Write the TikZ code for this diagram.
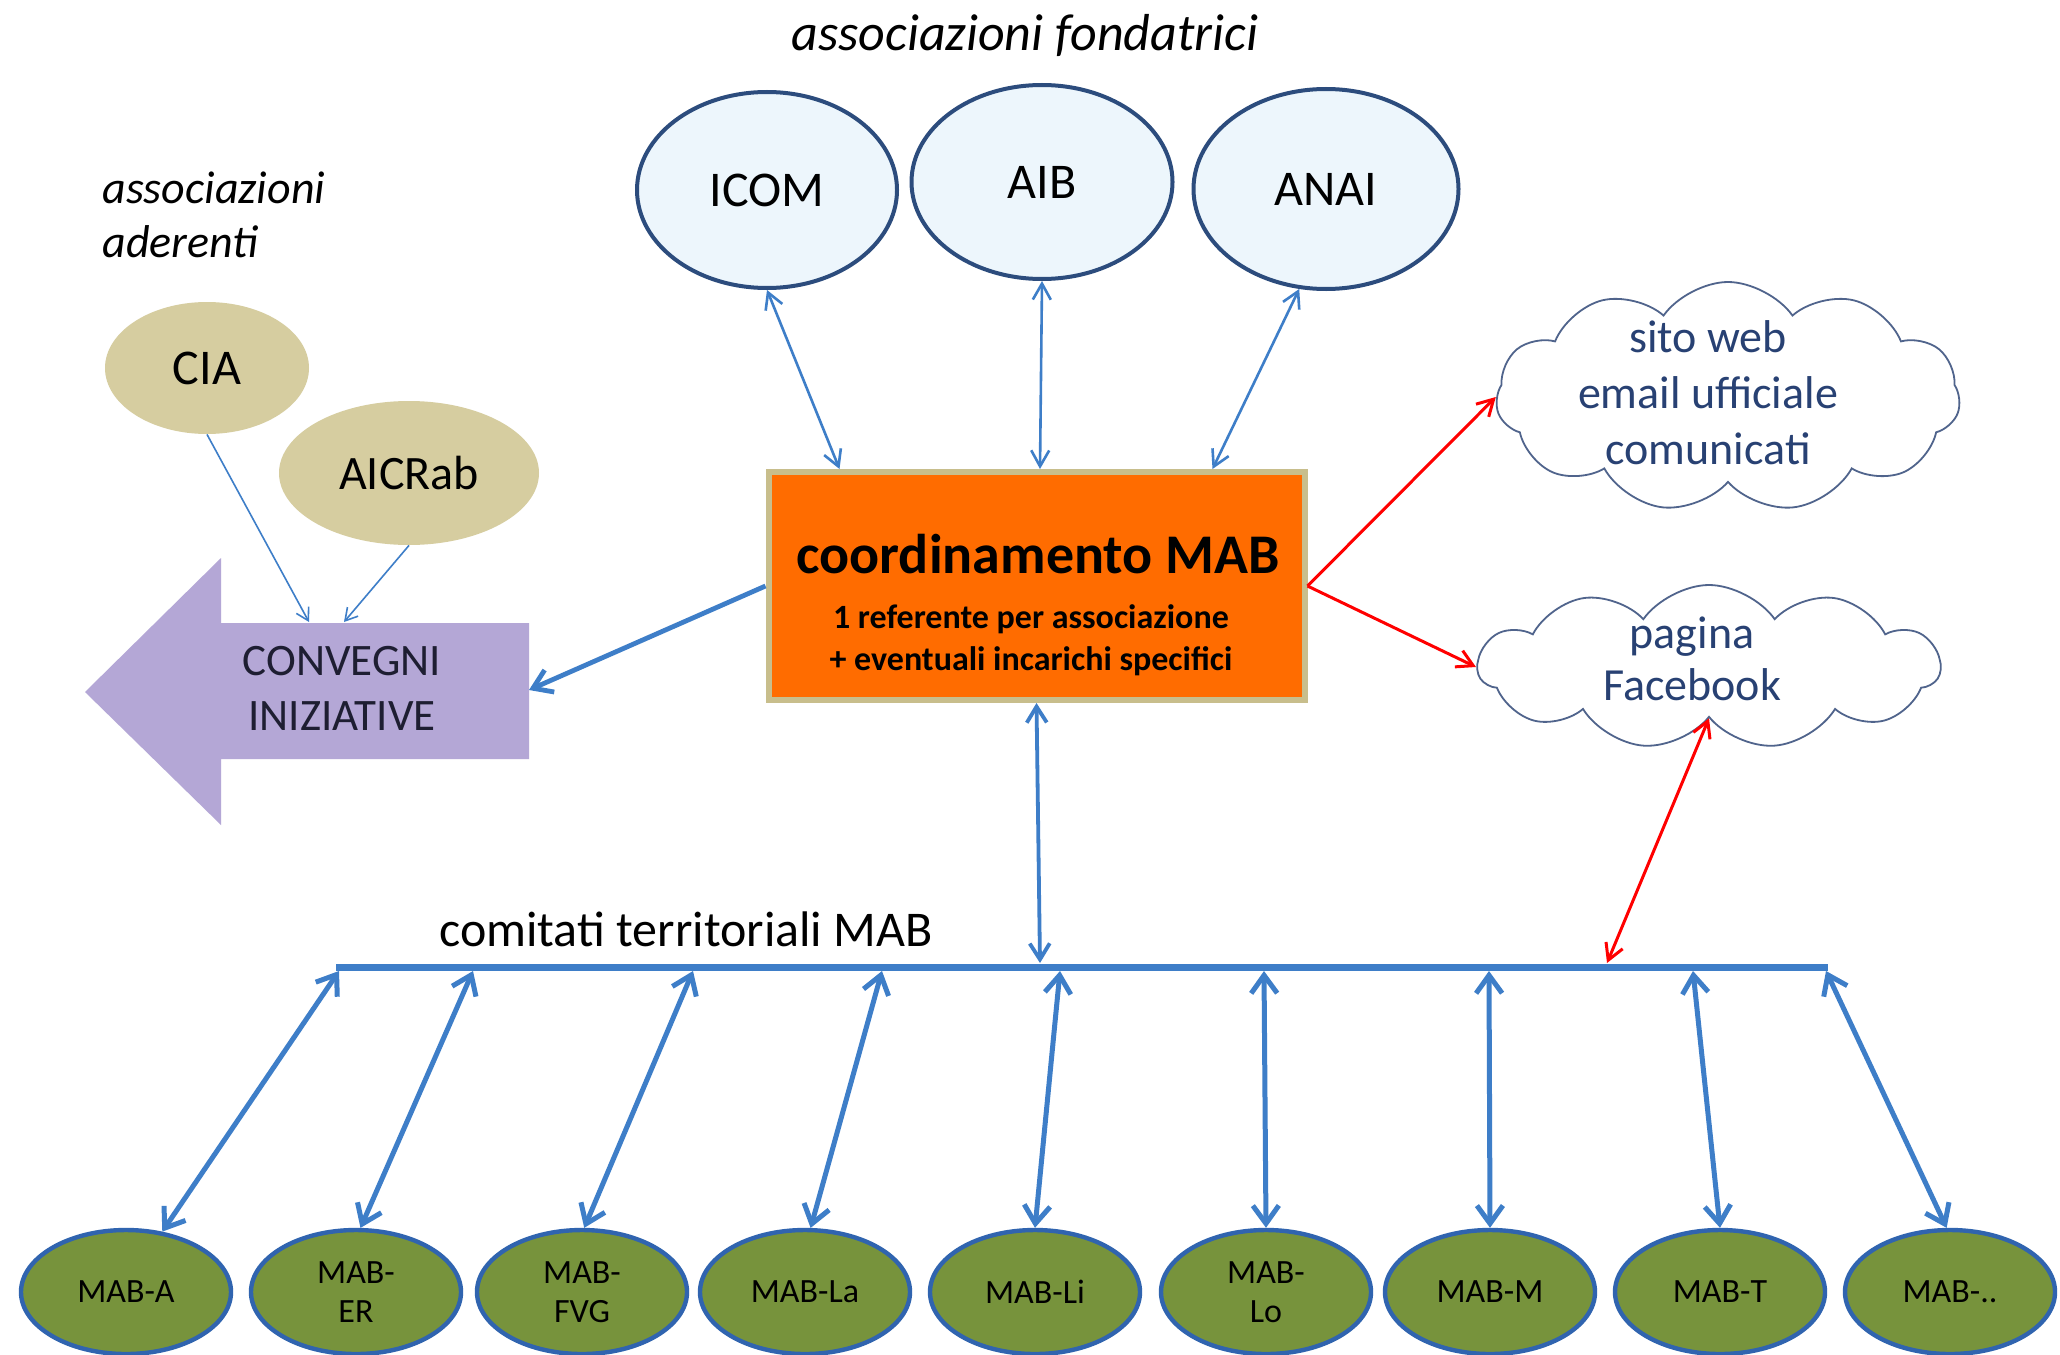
\documentclass[tikz,border=0pt]{standalone}
\usepackage{fontspec}
\setmainfont{Carlito}
\usetikzlibrary{arrows.meta,shapes.geometric,shapes.symbols,calc}
\definecolor{navy}{RGB}{44,76,125}
\definecolor{lightblue}{RGB}{237,246,252}
\definecolor{lineblue}{RGB}{62,126,200}
\definecolor{khaki}{RGB}{214,205,160}
\definecolor{khakiborder}{RGB}{200,190,140}
\definecolor{orangefill}{RGB}{255,108,0}
\definecolor{lavender}{RGB}{180,167,214}
\definecolor{olive}{RGB}{119,147,60}
\definecolor{circleborder}{RGB}{48,100,175}
\definecolor{cloudline}{RGB}{80,100,140}
\definecolor{cloudtext}{RGB}{40,65,115}
\definecolor{convtext}{RGB}{30,30,50}
\begin{document}
\begin{tikzpicture}[x=0.5pt,y=-0.5pt,
  found/.style={ellipse, draw=navy, line width=2pt, fill=lightblue, inner sep=0pt,
    font=\fontsize{25}{30}\selectfont},
  member/.style={ellipse, fill=khaki, draw=none, inner sep=0pt,
    font=\fontsize{25}{30}\selectfont},
  mab/.style={ellipse, fill=olive, draw=circleborder, line width=2.2pt,
    minimum width=105pt, minimum height=62pt, inner sep=0pt, align=center,
    font=\fontsize{17}{19.5}\selectfont},
  cloudnode/.style={cloud, cloud puffs=11, cloud puff arc=110, cloud ignores aspect,
    draw=cloudline, line width=0.9pt, inner sep=0pt},
  cloudtxt/.style={align=center, text=cloudtext, font=\fontsize{23}{28}\selectfont},
  link/.style={draw=lineblue, line width=1.3pt,
    {Straight Barb[length=8pt,width=9pt]}-{Straight Barb[length=8pt,width=9pt]}},
  thinlink/.style={draw=lineblue, line width=0.8pt, -{Straight Barb[length=6pt,width=7pt]}},
  thicklink/.style={draw=lineblue, line width=2.4pt, -{Straight Barb[length=9pt,width=12pt]}},
  midlink/.style={draw=lineblue, line width=1.9pt,
    {Straight Barb[length=8pt,width=10pt]}-{Straight Barb[length=8pt,width=10pt]}},
  botlink/.style={draw=lineblue, line width=2.5pt,
    {Straight Barb[length=9pt,width=13pt]}-{Straight Barb[length=9pt,width=13pt]}},
  redlink/.style={draw=red, line width=1.5pt, -{Straight Barb[length=8pt,width=9pt]}},
  redboth/.style={draw=red, line width=1.5pt,
    {Straight Barb[length=8pt,width=9pt]}-{Straight Barb[length=8pt,width=9pt]}}
]
\fill[white] (0,0) rectangle (2060,1354);
\useasboundingbox (0,0) rectangle (2060,1354);

% titles
\node[font=\itshape\fontsize{26}{31}\selectfont] (tfond) at (1025,35) {associazioni fondatrici};
\node[anchor=west, align=left, inner sep=0pt, font=\itshape\fontsize{23}{27}\selectfont] (tader) at (102,215) {associazioni\\aderenti};

% founding associations
\node[found, minimum width=130pt, minimum height=98pt] (ICOM) at (767,190) {ICOM};
\node[found, minimum width=130.5pt, minimum height=97pt] (AIB) at (1042,182) {AIB};
\node[found, minimum width=132.5pt, minimum height=100pt] (ANAI) at (1326,189) {ANAI};

% member associations
\node[member, minimum width=102pt, minimum height=66pt] (CIA) at (207,368) {CIA};
\node[member, minimum width=130pt, minimum height=72pt, font=\fontsize{24}{29}\selectfont] (AICRab) at (409,473) {AICRab};

% purple arrow
\fill[lavender] (85,692) -- (221,558) -- (221,623) -- (529,623) -- (529,759) -- (221,759) -- (221,825) -- cycle;
\node[align=center, text=convtext, font=\fontsize{22.5}{27.5}\selectfont] (conv) at (342,688) {CONVEGNI\\INIZIATIVE};
\coordinate (convR) at (529,690);
\coordinate (convA) at (309,622);
\coordinate (convB) at (344,622);

% coordination box
\node[draw=khakiborder, line width=3pt, fill=orangefill, minimum width=268pt, minimum height=114pt, inner sep=0pt] (box) at (1036.5,586) {};
\node[font=\bfseries\fontsize{28}{34}\selectfont] (boxtitle) at (1038,554) {coordinamento MAB};
\node[align=center, font=\bfseries\fontsize{17}{21}\selectfont] (boxsub) at (1031,640) {1 referente per associazione\\+ eventuali incarichi specifici};

% clouds
\node[cloudnode, minimum width=232pt, minimum height=115pt] (web) at (1728,397) {};
\node[cloudtxt] (webtxt) at (1708,393) {sito web\\email ufficiale\\comunicati};
\node[cloudnode, minimum width=231pt, minimum height=82pt] (fb) at (1709,667) {};
\node[cloudtxt, font=\fontsize{23}{26}\selectfont] (fbtxt) at (1692,659) {pagina\\Facebook};

% bar
\coordinate (barL) at (336,967);
\coordinate (barR) at (1828,967);
\draw[lineblue, line width=3.5pt] (barL) -- (barR);
\node[font=\fontsize{25}{30}\selectfont] (comitati) at (686,929) {comitati territoriali MAB};

% territorial committees
\node[mab] (mA) at (126,1292) {MAB-A};
\node[mab] (mER) at (356,1292) {MAB-\\ER};
\node[mab] (mFVG) at (582,1292) {MAB-\\FVG};
\node[mab] (mLa) at (805,1292) {MAB-La};
\node[mab] (mLi) at (1035,1292) {MAB-Li};
\node[mab] (mLo) at (1266,1292) {MAB-\\Lo};
\node[mab] (mM) at (1490,1292) {MAB-M};
\node[mab] (mT) at (1720,1292) {MAB-T};
\node[mab] (mX) at (1950,1292) {MAB-..};

% bar points
\coordinate (b1) at (339,971);
\coordinate (b2) at (473,971);
\coordinate (b3) at (693,971);
\coordinate (b4) at (882,971);
\coordinate (b5) at (1060,971);
\coordinate (b6) at (1264,971);
\coordinate (b7) at (1489,971);
\coordinate (b8) at (1693,971);
\coordinate (b9) at (1826,971);
\coordinate (bMid) at (1040,963);
\coordinate (bRed) at (1607,963);

% connectors
\draw[link] (ICOM.south) -- ([xshift=-98.5pt]box.north);
\draw[link] (AIB.south) -- ([xshift=1.75pt]box.north);
\draw[link] (ANAI.-105) -- ([xshift=88pt]box.north);
\draw[thinlink] (CIA.south) -- (convA);
\draw[thinlink] (AICRab.south) -- (convB);
\draw[thicklink] (box.west) -- (convR);
\draw[redlink] (box.east) -- (web.west);
\draw[redlink] (box.east) -- (fb.west);
\draw[redboth] (fb.south) -- (bRed);
\draw[midlink] (box.south) -- (bMid);
\draw[botlink] (b1) -- (mA.59);
\draw[botlink] (b2) -- (mER.86);
\draw[botlink] (b3) -- (mFVG.88);
\draw[botlink] (b4) -- (mLa.85);
\draw[botlink] (b5) -- (mLi.90);
\draw[botlink] (b6) -- (mLo.90);
\draw[botlink] (b7) -- (mM.90);
\draw[botlink] (b8) -- (mT.90);
\draw[botlink] (b9) -- (mX.93);
\end{tikzpicture}
\end{document}
